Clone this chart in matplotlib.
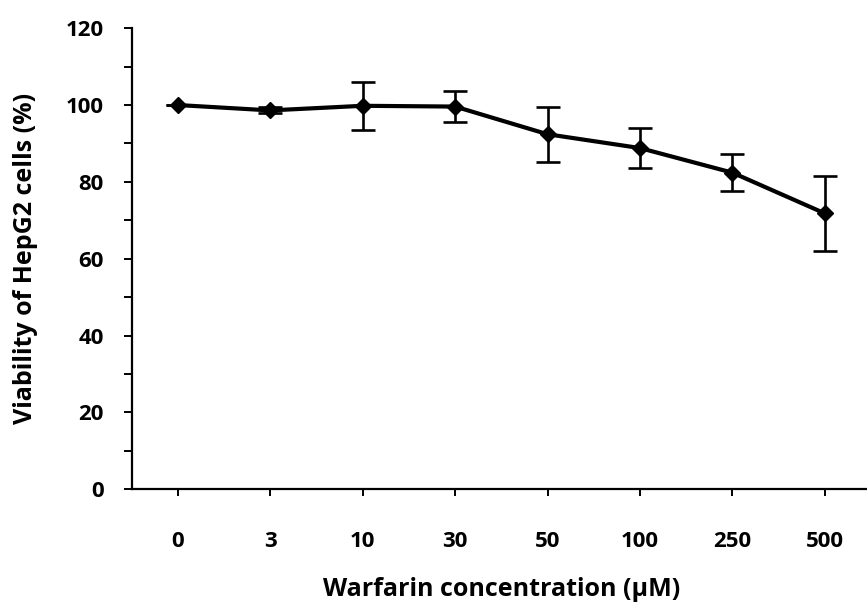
import numpy as np
import matplotlib
matplotlib.use("Agg")
import matplotlib.pyplot as plt

# warfarin doses and HepG2 viability (mean, sd)
concentrations = ["0", "3", "10", "30", "50", "100", "250", "500"]
viability = [100.0, 98.6, 99.8, 99.6, 92.4, 88.8, 82.4, 71.8]
viability_sd = [0.0, 0.8, 6.2, 4.1, 7.2, 5.1, 4.8, 9.8]

plt.rcParams["font.family"] = ["Open Sans", "DejaVu Sans"]
plt.rcParams["font.weight"] = "bold"

fig = plt.figure(figsize=(8.67, 6.02), dpi=100)
ax = fig.add_axes([0.1517, 0.1872, 0.853, 0.766])

x = np.arange(len(concentrations))
ax.errorbar(x, viability, yerr=viability_sd, color="black", lw=3.0,
            marker="D", markersize=8.5, elinewidth=1.9, capsize=8.5,
            capthick=1.9, zorder=3)

ax.set_xlim(-0.5, len(concentrations) - 0.5)
ax.set_ylim(0, 120)
ax.set_xticks(x)
ax.set_xticklabels(concentrations)
ax.set_yticks(np.arange(0, 121, 20))
ax.set_yticks(np.arange(10, 120, 20), minor=True)

for side in ("top", "right"):
    ax.spines[side].set_visible(False)
for side in ("left", "bottom"):
    ax.spines[side].set_linewidth(1.6)

ax.tick_params(axis="both", which="both", direction="out", width=1.4,
               labelsize=16, colors="black")
ax.tick_params(axis="y", which="both", length=6, pad=14)
ax.tick_params(axis="x", which="major", length=5, pad=25)

ax.set_xlabel("Warfarin concentration (\u00b5M)", fontsize=18,
              fontweight="bold", labelpad=18)
ax.set_ylabel("Viability of HepG2 cells (%)", fontsize=18,
              fontweight="bold", labelpad=20)

fig.savefig("out.png", dpi=100)
